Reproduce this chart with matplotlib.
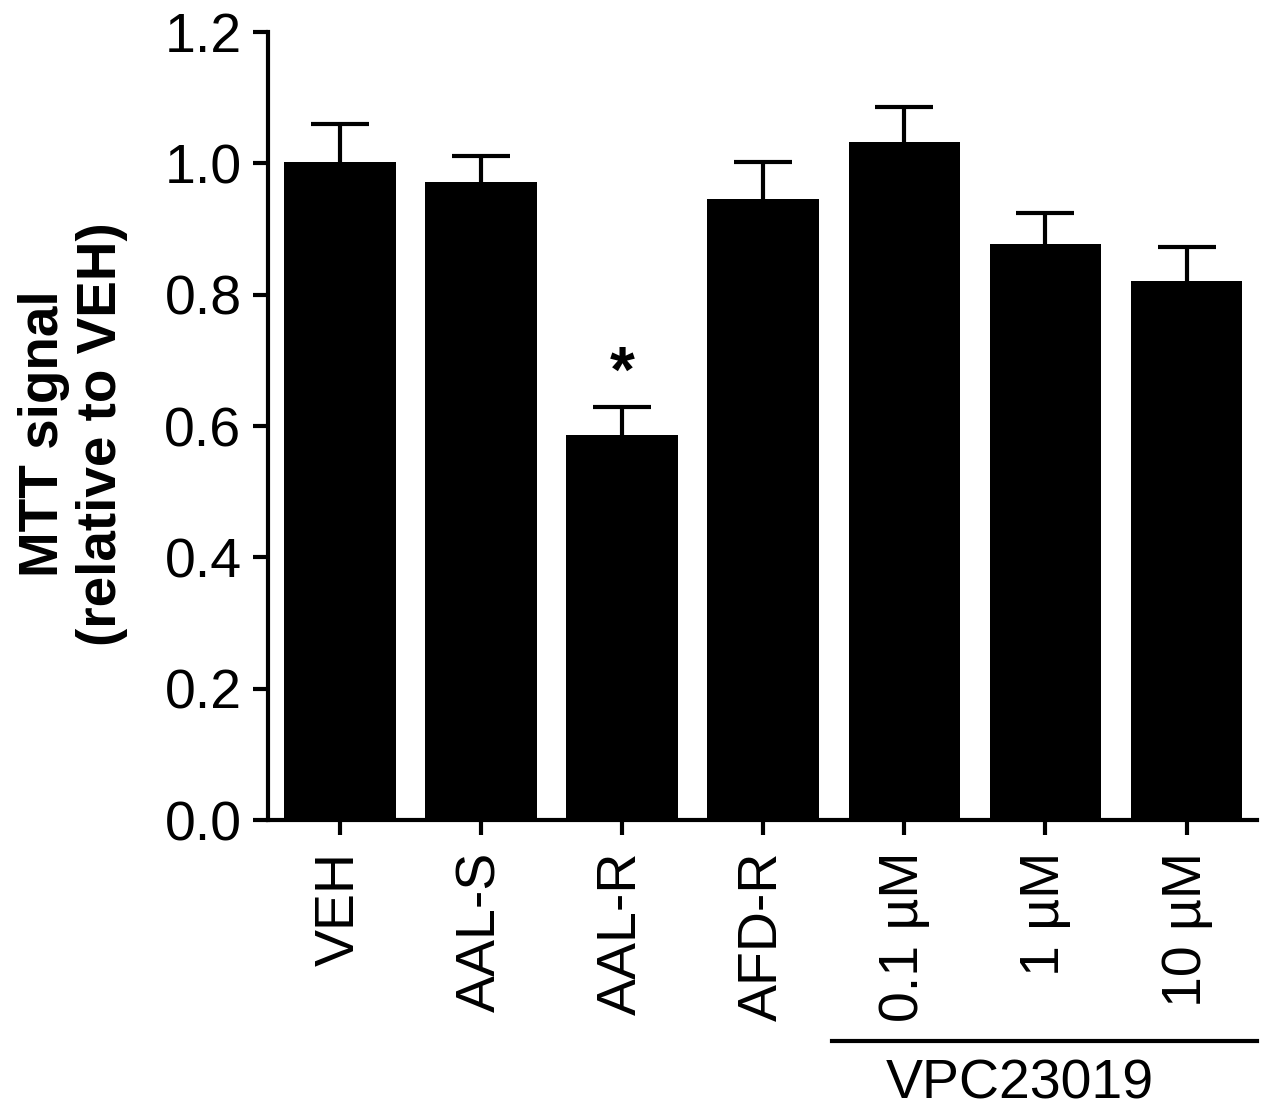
import matplotlib.pyplot as plt
import numpy as np

plt.rcParams['font.family'] = ['Liberation Sans', 'DejaVu Sans']

labels = ['VEH', 'AAL-S', 'AAL-R', 'AFD-R', '0.1 µM', '1 µM', '10 µM']
means = [1.002, 0.971, 0.586, 0.946, 1.032, 0.877, 0.821]
sems = [0.058, 0.040, 0.043, 0.056, 0.054, 0.047, 0.052]
group_label = 'VPC23019'

fig = plt.figure(figsize=(12.64, 11.16), dpi=100)
ax = fig.add_axes([0.212, 0.2652, 0.7825, 0.7061])

x = np.arange(len(labels))
ax.bar(x, means, width=0.79, color='black', zorder=2)
eb = ax.errorbar(x, means, yerr=[np.zeros(len(sems)), sems], fmt='none',
                 ecolor='black', elinewidth=3, capsize=21, capthick=3, zorder=1)
# only the upper caps
eb[1][0].set_visible(False)

# significance mark
ax.text(2, 0.632, '*', ha='center', va='bottom', fontsize=46, fontweight='bold')

ax.set_xlim(-0.51, 6.5)
ax.set_ylim(0, 1.2)
ax.set_yticks(np.arange(0, 1.21, 0.2))
ax.set_yticklabels([f'{v:.1f}' for v in np.arange(0, 1.21, 0.2)])
ax.set_xticks(x)
ax.set_xticklabels(labels, rotation=90)

for s in ['top', 'right']:
    ax.spines[s].set_visible(False)
for s in ['left', 'bottom']:
    ax.spines[s].set_linewidth(3)
ax.tick_params(axis='both', length=11, width=3, labelsize=40)
ax.tick_params(axis='x', pad=12)
ax.tick_params(axis='y', pad=8)

ax.set_ylabel('MTT signal\n(relative to VEH)', fontsize=39.5, fontweight='bold',
              linespacing=1.15)
ax.yaxis.set_label_coords(-0.142, 0.49)

# group bracket under the VPC23019 bars
trans = ax.get_xaxis_transform()
ax.plot([3.49, 6.5], [-0.2805, -0.2805], color='black', lw=3, transform=trans,
        clip_on=False)
ax.text(4.816, -0.302, group_label, ha='center', va='top', fontsize=40,
        transform=trans)

fig.savefig('out.png', dpi=100)
